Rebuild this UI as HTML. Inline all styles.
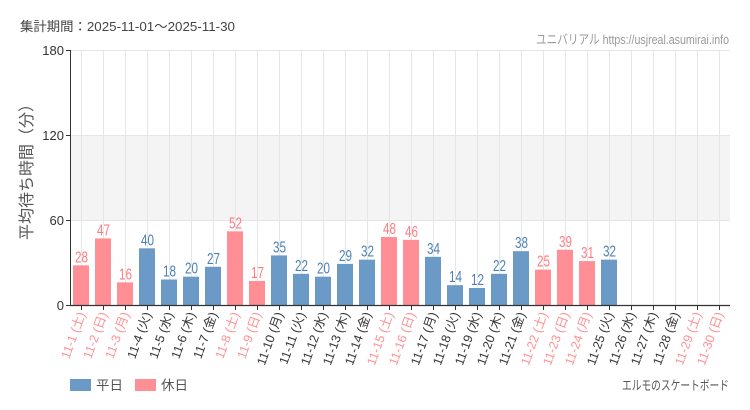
<!DOCTYPE html>
<html><head><meta charset="utf-8">
<style>
html,body{margin:0;padding:0;background:#fff;}
svg{display:block;}
text{font-family:"Liberation Sans","Noto Sans CJK JP",sans-serif;}
</style></head>
<body>
<svg width="750" height="410" viewBox="0 0 750 410" xmlns="http://www.w3.org/2000/svg">
<rect x="0" y="0" width="750" height="410" fill="#fff"/>
<text x="20" y="31" font-size="13" fill="#444" textLength="215" lengthAdjust="spacingAndGlyphs">集計期間：2025-11-01～2025-11-30</text>
<text x="729" y="44" font-size="13" fill="#999" text-anchor="end" textLength="193" lengthAdjust="spacingAndGlyphs">ユニバリアル  https://usjreal.asumirai.info</text>

<rect x="70" y="135.33" width="660" height="85" fill="#f4f4f4"/>
<g stroke="#e6e6e6" stroke-width="1">
<line x1="70" y1="50.5" x2="730" y2="50.5"/>
<line x1="70" y1="135.5" x2="730" y2="135.5"/>
<line x1="70" y1="220.5" x2="730" y2="220.5"/>
</g>
<g stroke="#e6e6e6" stroke-width="1" id="vg"></g>

<g id="bars"></g>
<g id="blabels"></g>

<line x1="70.5" y1="50" x2="70.5" y2="305" stroke="#333" stroke-width="1"/>
<line x1="70" y1="305.5" x2="730" y2="305.5" stroke="#333" stroke-width="1.2"/>
<g stroke="#333" stroke-width="1">
<line x1="66" y1="50.5" x2="70" y2="50.5"/>
<line x1="66" y1="135.5" x2="70" y2="135.5"/>
<line x1="66" y1="220.5" x2="70" y2="220.5"/>
<line x1="66" y1="305.5" x2="70" y2="305.5"/>
</g>
<g id="xticks" stroke="#333" stroke-width="1"></g>
<g font-size="13" fill="#333" text-anchor="end">
<text x="64" y="55">180</text>
<text x="64" y="140">120</text>
<text x="64" y="225">60</text>
<text x="64" y="310">0</text>
</g>
<text transform="translate(32,168) rotate(-90)" font-size="16" fill="#555" text-anchor="middle">平均待ち時間（分）</text>

<g id="xlabels" font-size="12.5"></g>

<rect x="70" y="379" width="21" height="12" fill="#6b9ac6"/>
<text x="96" y="390" font-size="13.5" fill="#555">平日</text>
<rect x="135" y="379" width="21" height="12" fill="#ff8f94"/>
<text x="161" y="390" font-size="13.5" fill="#555">休日</text>
<text x="729" y="390" font-size="13" fill="#555" text-anchor="end" textLength="107" lengthAdjust="spacingAndGlyphs">エルモのスケートボード</text>
</svg>
<script>
(function(){
var NS="http://www.w3.org/2000/svg";
var vals=[28,47,16,40,18,20,27,52,17,35,22,20,29,32,48,46,34,14,12,22,38,25,39,31,32];
var days=["土","日","月","火","水","木","金","土","日","月","火","水","木","金","土","日","月","火","水","木","金","土","日","月","火","水","木","金","土","日"];
var hol={0:1,1:1,2:1,7:1,8:1,14:1,15:1,21:1,22:1,23:1,28:1,29:1};
var vg=document.getElementById("vg"),bars=document.getElementById("bars"),bl=document.getElementById("blabels"),xt=document.getElementById("xticks"),xl=document.getElementById("xlabels");
function el(n,a,p){var e=document.createElementNS(NS,n);for(var k in a)e.setAttribute(k,a[k]);p.appendChild(e);return e;}
for(var i=0;i<30;i++){
 var cx=81+22*i;
 el("line",{x1:cx+0.5,y1:50,x2:cx+0.5,y2:305},vg);
 el("line",{x1:cx+0.5,y1:305,x2:cx+0.5,y2:310},xt);
 var h=hol[i];
 if(i<vals.length){
  var v=vals[i],bh=v*255/180,y=305-bh;
  el("rect",{x:cx-8,y:y,width:16,height:bh,fill:h?"#ff8f94":"#6b9ac6"},bars);
  var t=el("text",{x:cx+0.5,y:y-3,"font-size":15.5,fill:h?"#ff7a80":"#4a7fb8","text-anchor":"middle",textLength:(v>=10?13:6.5),lengthAdjust:"spacingAndGlyphs"},bl);
  t.textContent=String(v);
 }
 var lt=el("text",{transform:"translate("+(cx+4.5)+",314) rotate(-70)","text-anchor":"end",fill:h?"#ff8f94":"#333"},xl);
 lt.textContent="11-"+(i+1)+" ("+days[i]+")";
}
})();
</script>
</body></html>
